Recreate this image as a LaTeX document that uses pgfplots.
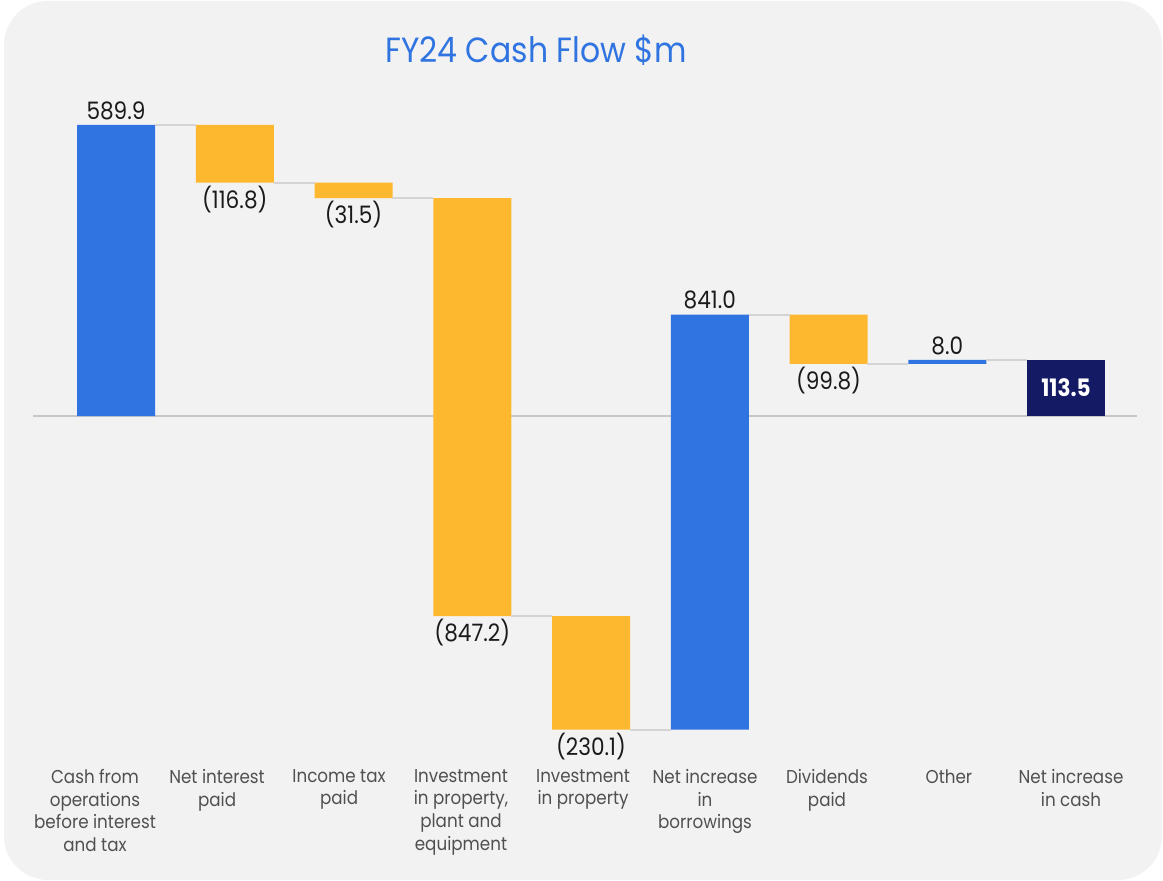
\documentclass[border=0pt]{standalone}
\usepackage{pgfplots}
\pgfplotsset{compat=1.18}
\usepackage{fontspec}
\setmainfont[FakeStretch=0.9]{Poppins}
\definecolor{bgcol}{HTML}{F2F2F2}
\definecolor{cfblue}{HTML}{2F74E0}
\definecolor{cfyellow}{HTML}{FEB82F}
\definecolor{cfnavy}{HTML}{141A64}
\definecolor{conn}{HTML}{D4D4D4}
\definecolor{zeroline}{HTML}{C8C8C8}
\definecolor{valtext}{HTML}{1A1A1A}
\definecolor{cattext}{HTML}{505050}
\pgfplotsset{cfframe/.style={
  at={(16.45pt,59.53pt)}, anchor=south west,
  scale only axis, width=552.2pt, height=333.2pt,
  xmin=-0.7, xmax=8.6, ymin=-701, ymax=649.4,
  axis line style={draw=none}, tick style={draw=none},
  ytick=\empty, clip=false}}
\begin{document}
\begin{tikzpicture}
\useasboundingbox (0,0) rectangle (581.5pt,440.5pt);
\fill[white] (0,0) rectangle (581.5pt,440.5pt);
\fill[bgcol, rounded corners=22pt] (2pt,0.5pt) rectangle (581pt,440pt);
\node[font=\fontsize{17.5}{20}\selectfont, text=cfblue] at (268pt,415.5pt) {FY24 Cash Flow \$m};
\begin{axis}[
  cfframe,
  ybar stacked, stack negative=on previous, bar width=39pt,
  extra y ticks={0}, extra y tick labels={},
  extra y tick style={grid=major, major grid style={zeroline, line width=1pt}},
  xtick={-0.177,0.851,1.878,2.905,3.933,4.960,5.987,7.014,8.042},
  xticklabels={{Cash from\\operations\\before interest\\and tax},{Net interest\\paid},{Income tax\\paid},{Investment\\in property,\\plant and\\equipment},{Investment\\in property},{Net increase\\in\\borrowings},{Dividends\\paid},{Other},{Net increase\\in cash}},
  xticklabel style={align=center, font=\fontsize{9.3}{11.3}\selectfont, text=cattext, anchor=north, inner sep=0pt, yshift=-3.5pt},
]
% invisible base
\addplot[draw=none, fill=none] coordinates {(0,0) (1,589.9) (2,473.1) (3,441.6) (4,-405.6) (5,-635.7) (6,205.3) (7,105.5) (8,0)};
% increases
\addplot[draw=none, fill=cfblue] coordinates {(0,589.9) (1,0) (2,0) (3,0) (4,0) (5,841.0) (6,0) (7,8.0) (8,0)};
% decreases
\addplot[draw=none, fill=cfyellow] coordinates {(0,0) (1,-116.8) (2,-31.5) (3,-847.2) (4,-230.1) (5,0) (6,-99.8) (7,0) (8,0)};
% total
\addplot[draw=none, fill=cfnavy] coordinates {(0,0) (1,0) (2,0) (3,0) (4,0) (5,0) (6,0) (7,0) (8,113.5)};
\end{axis}
\begin{axis}[cfframe, xtick=\empty]
% connectors
\addplot[conn, line width=1pt, unbounded coords=jump, mark=none] coordinates {
 (0.328,589.9) (0.672,589.9) (0.7,nan)
 (1.328,473.1) (1.672,473.1) (1.7,nan)
 (2.328,441.6) (2.672,441.6) (2.7,nan)
 (3.328,-405.6) (3.672,-405.6) (3.7,nan)
 (4.328,-635.7) (4.672,-635.7) (4.7,nan)
 (5.328,205.3) (5.672,205.3) (5.7,nan)
 (6.328,105.5) (6.672,105.5) (6.7,nan)
 (7.328,113.5) (7.672,113.5)};
% labels
\begin{scope}[every node/.style={font=\fontsize{12}{14}\selectfont, text=valtext, inner sep=0pt}]
\node[anchor=south, yshift=2.5pt] at (axis cs:0,589.9) {589.9};
\node[anchor=north, yshift=-1.5pt] at (axis cs:1,473.1) {(116.8)};
\node[anchor=north, yshift=-1.5pt] at (axis cs:2,441.6) {(31.5)};
\node[anchor=north, yshift=-1.5pt] at (axis cs:3,-405.6) {(847.2)};
\node[anchor=north, yshift=-1.5pt] at (axis cs:4,-635.7) {(230.1)};
\node[anchor=south, yshift=2.5pt] at (axis cs:5,205.3) {841.0};
\node[anchor=north, yshift=-1.5pt] at (axis cs:6,105.5) {(99.8)};
\node[anchor=south, yshift=2.5pt] at (axis cs:7,113.5) {8.0};
\node[text=white, font=\fontsize{12}{14}\selectfont\bfseries] at (axis cs:8,56.75) {113.5};
\end{scope}
\end{axis}
\end{tikzpicture}
\end{document}
